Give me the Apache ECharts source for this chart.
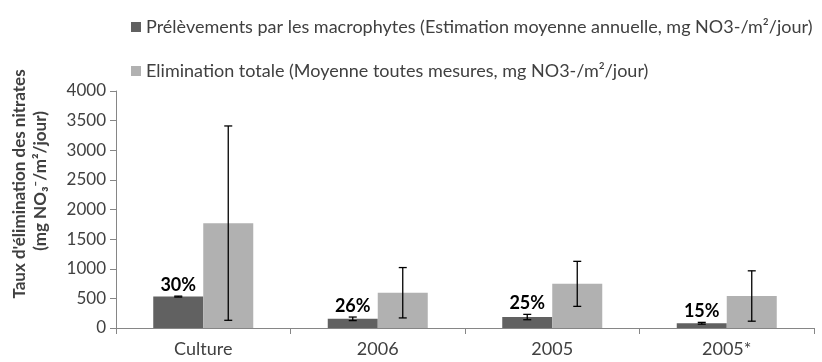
<!DOCTYPE html>
<html>
<head>
<meta charset="utf-8">
<script src="https://cdn.jsdelivr.net/npm/echarts@6/dist/echarts.min.js"></script>
<style>
  html, body { margin: 0; padding: 0; background: #fff; }
  #chart { width: 822px; height: 362px; }
</style>
</head>
<body>
<div id="chart"></div>
<script>
// Categories and measured values (mg NO3-/m²/jour)
const categories = ['Culture', '2006', '2005', '2005*'];
const uptakeValues = [530, 155, 185, 80];      // macrophyte uptake (annual mean estimate)
const uptakeErrors = [8, 30, 45, 15];
const totalValues = [1770, 595, 745, 540];     // total removal (mean of all measurements)
const totalErrors = [1640, 425, 380, 425];
const shareLabels = ['30%', '26%', '25%', '15%'];

const seriesNames = [
  'Prélèvements par les macrophytes (Estimation moyenne annuelle, mg NO3-/m²/jour)',
  'Elimination totale (Moyenne toutes mesures, mg NO3-/m²/jour)'
];

const FONT = 'Lato, "Open Sans", sans-serif';
const TEXT = '#404040';
const AXIS = '#868686';
const BAR_W = 50;

// Error bar drawer; side -1 = left bar of the pair, +1 = right bar
function errorBars(values, errors, side, labels) {
  return {
    type: 'custom',
    silent: true,
    z: 5,
    data: values.map((v, i) => [i, v, errors[i]]),
    renderItem: function (params, api) {
      const i = api.value(0);
      const v = api.value(1);
      const e = api.value(2);
      const center = api.coord([i, v]);
      const x = center[0] + side * BAR_W / 2;
      const top = api.coord([i, v + e])[1];
      const bot = api.coord([i, v - e])[1];
      const cap = 4;
      const style = { stroke: '#000', lineWidth: 1.3 };
      const children = [
        { type: 'line', shape: { x1: x, y1: top, x2: x, y2: bot }, style: style },
        { type: 'line', shape: { x1: x - cap, y1: top, x2: x + cap, y2: top }, style: style },
        { type: 'line', shape: { x1: x - cap, y1: bot, x2: x + cap, y2: bot }, style: style }
      ];
      if (labels) {
        children.push({
          type: 'text',
          style: {
            text: labels[params.dataIndex],
            x: x, y: top - 2,
            align: 'center', verticalAlign: 'bottom',
            font: 'bold 18px ' + FONT, fill: '#000'
          }
        });
      }
      return { type: 'group', children: children };
    }
  };
}

const chart = echarts.init(document.getElementById('chart'), null, { renderer: 'canvas' });

chart.setOption({
  animation: false,
  backgroundColor: '#fff',
  textStyle: { fontFamily: FONT },
  grid: { left: 116, right: 8, top: 91, bottom: 34, containLabel: false },
  legend: {
    orient: 'vertical',
    left: 126,
    top: 13,
    itemGap: 26,
    itemWidth: 10,
    itemHeight: 10,
    icon: 'rect',
    textStyle: { fontSize: 18, color: TEXT, fontFamily: FONT },
    data: seriesNames
  },
  xAxis: {
    type: 'category',
    data: categories,
    axisLine: { lineStyle: { color: AXIS, width: 1 } },
    axisTick: { show: true, length: 6, lineStyle: { color: AXIS } },
    axisLabel: { fontSize: 18, color: TEXT, margin: 12, fontFamily: FONT }
  },
  yAxis: {
    type: 'value',
    min: 0,
    max: 4000,
    interval: 500,
    axisLine: { show: true, lineStyle: { color: AXIS, width: 1 } },
    axisTick: { show: true, length: 6, lineStyle: { color: AXIS } },
    splitLine: { show: false },
    axisLabel: {
      fontSize: 17, color: TEXT, margin: 10, fontFamily: FONT,
      formatter: function (v) { return String(v); }
    }
  },
  graphic: [
    {
      type: 'text',
      x: 20, y: 184,
      rotation: Math.PI / 2,
      style: {
        text: "Taux d'élimination des nitrates",
        font: 'bold 17px ' + FONT, fill: TEXT,
        align: 'center', verticalAlign: 'middle'
      }
    },
    {
      type: 'text',
      x: 41, y: 181,
      rotation: Math.PI / 2,
      style: {
        text: '(mg NO₃⁻/m²/jour)',
        font: 'bold 17px ' + FONT, fill: TEXT,
        align: 'center', verticalAlign: 'middle'
      }
    }
  ],
  series: [
    {
      name: seriesNames[0],
      type: 'bar',
      data: uptakeValues,
      barWidth: BAR_W,
      barGap: '0%',
      itemStyle: { color: '#616161' }
    },
    {
      name: seriesNames[1],
      type: 'bar',
      data: totalValues,
      barWidth: BAR_W,
      barGap: '0%',
      itemStyle: { color: '#b1b1b1' }
    },
    errorBars(uptakeValues, uptakeErrors, -1, shareLabels),
    errorBars(totalValues, totalErrors, 1, null)
  ]
});
</script>
</body>
</html>
